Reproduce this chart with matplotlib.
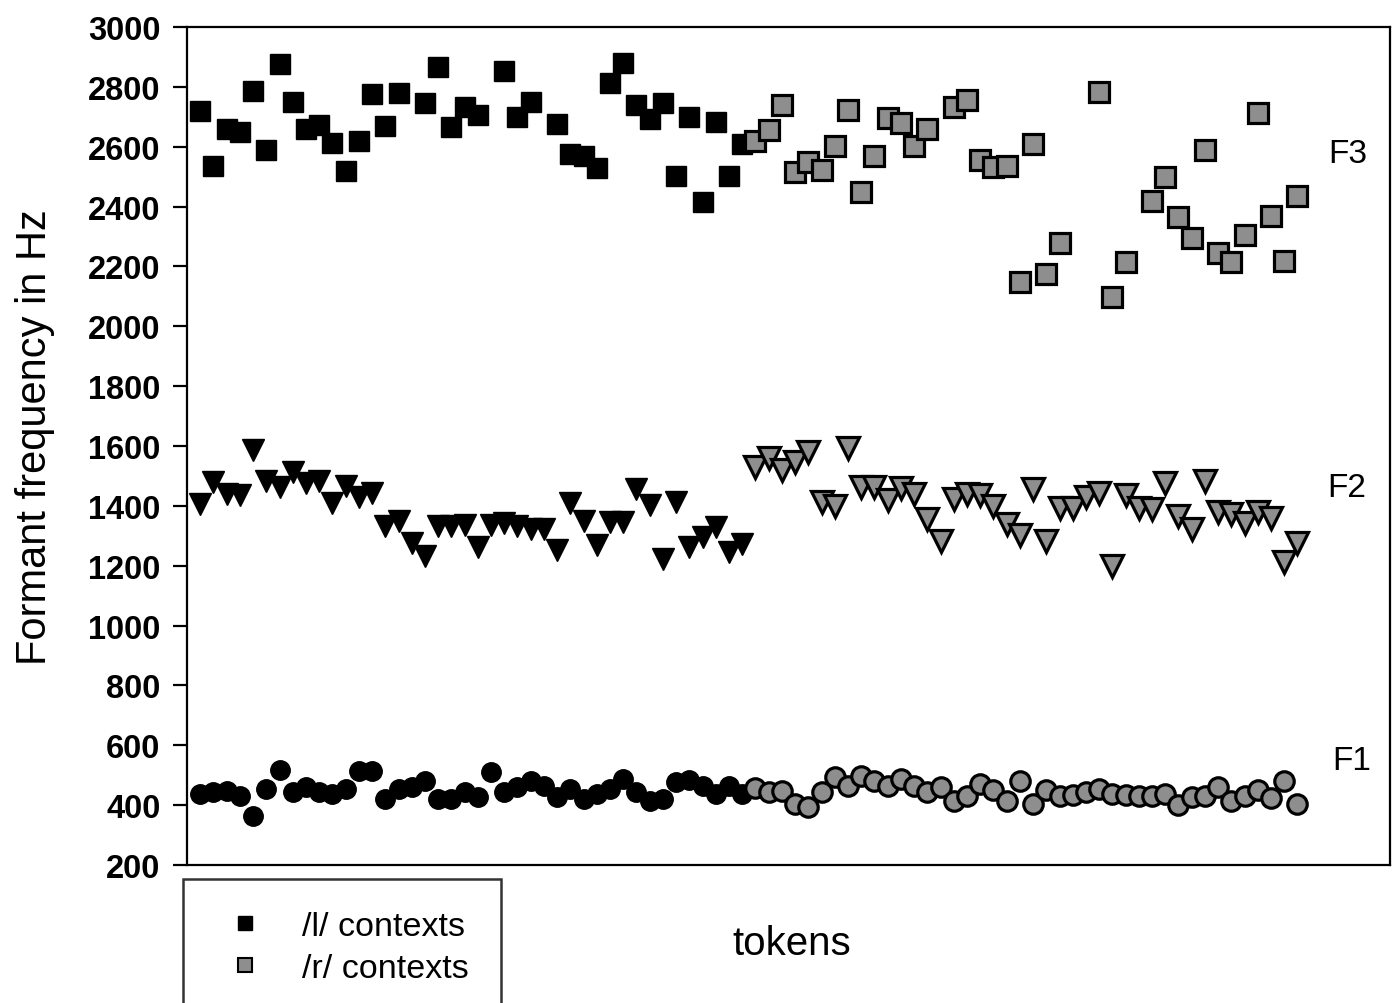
import numpy as np
import matplotlib
matplotlib.use("Agg")
import matplotlib.pyplot as plt
from matplotlib.lines import Line2D

nan = np.nan

# token index: 0-41 are /l/ contexts, 42-83 are /r/ contexts
tokens_l = np.arange(0, 42)
tokens_r = np.arange(42, 84)

f3_l = [2720, 2536, 2659, 2650, 2785, 2589, 2876, 2750, 2659, 2673,
        2611, 2520, 2618, 2776, 2670, 2778, nan, 2746, 2865, 2665,
        2732, 2706, nan, 2854, 2700, 2748, nan, 2676, 2576, 2568,
        2529, 2812, 2879, 2739, 2692, 2745, 2503, 2700, 2414, 2682,
        2501, 2609]
f3_r = [2618, 2657, 2740, 2517, 2548, 2522, 2601, 2724, 2448, 2570,
        2696, 2678, 2601, 2659, nan, 2734, 2757, 2557, 2531, 2535,
        2149, 2609, 2175, 2277, nan, nan, 2784, 2097, 2216, nan,
        2418, 2498, 2364, 2295, 2590, 2244, 2216, 2306, 2712, 2370,
        2217, 2436]

f2_l = [1405, 1479, 1440, 1436, 1588, 1482, 1462, 1512, 1475, 1484,
        1409, 1468, 1431, 1443, 1334, 1348, 1275, 1233, 1334, 1334,
        1336, 1264, 1337, 1342, 1334, 1323, 1323, 1253, 1410, 1351,
        1269, 1347, 1347, 1456, 1403, 1222, 1414, 1261, 1295, 1328,
        1247, 1273]
f2_r = [1531, 1559, 1520, 1545, 1579, 1412, 1401, 1592, 1462, 1462,
        1420, 1458, 1440, 1356, 1282, 1423, 1440, 1436, 1401, 1339,
        1302, 1456, 1283, 1392, 1392, 1431, 1444, 1200, 1436, 1394,
        1389, 1476, 1365, 1324, 1484, 1379, 1374, 1342, 1379, 1358,
        1213, 1276]

f1_l = [437, 443, 446, 432, 363, 454, 517, 443, 460, 443,
        437, 454, 515, 515, 420, 454, 460, 482, 420, 420,
        443, 426, 510, 443, 460, 482, 465, 426, 454, 420,
        437, 454, 487, 443, 415, 420, 476, 485, 465, 437,
        465, 437]
f1_r = [457, 443, 448, 403, 395, 445, 493, 465, 496, 482,
        465, 487, 465, 443, 460, 415, 432, 471, 449, 415,
        482, 404, 449, 432, 434, 443, 454, 437, 434, 432,
        432, 437, 401, 426, 432, 460, 415, 432, 449, 423,
        482, 404]

yticks = list(range(200, 3001, 200))
formant_labels = ["F3", "F2", "F1"]
label_pos = [(86.8, 2576), (86.7, 1463), (87.1, 548)]

BLACK = "black"
GRAY = "#8e8e8e"

plt.rcParams["font.family"] = ["Liberation Sans", "DejaVu Sans"]

fig = plt.figure(figsize=(13.92, 10.04), dpi=100)
ax = fig.add_axes([187 / 1392, 138 / 1004, 1203 / 1392, 838 / 1004])

ms_sq, ms_tri, ms_circ = 14.5, 15.5, 14
ew = 2.3

# /l/ contexts
ax.plot(tokens_l, f3_l, "s", ms=ms_sq, color=BLACK, mec=BLACK)
ax.plot(tokens_l, f2_l, "v", ms=ms_tri, color=BLACK, mec=BLACK)
ax.plot(tokens_l, f1_l, "o", ms=ms_circ, color=BLACK, mec=BLACK)
# /r/ contexts
ax.plot(tokens_r, f3_r, "s", ms=ms_sq, mfc=GRAY, mec=BLACK, mew=ew)
ax.plot(tokens_r, f2_r, "v", ms=ms_tri, mfc=GRAY, mec=BLACK, mew=ew)
ax.plot(tokens_r, f1_r, "o", ms=ms_circ, mfc=GRAY, mec=BLACK, mew=ew)

for lab, (x, y) in zip(formant_labels, label_pos):
    ax.text(x, y, lab, fontsize=24, ha="center", va="center")

ax.set_xlim(-1, 90)
ax.set_ylim(200, 3000)
ax.set_yticks(yticks)
ax.set_xticks([])
ax.tick_params(axis="y", direction="out", length=10, width=1.6, pad=9,
               labelsize=23.5)
for t in ax.get_yticklabels():
    t.set_fontweight("bold")
for s in ax.spines.values():
    s.set_linewidth(1.6)

ax.set_ylabel("Formant frequency in Hz", fontsize=30, va="center")
ax.yaxis.set_label_coords(-0.126, 0.512)
ax.set_xlabel("tokens", fontsize=29, va="center")
ax.xaxis.set_label_coords(0.503, -0.093)

handles = [
    Line2D([], [], ls="none", marker="s", ms=10, color=BLACK),
    Line2D([], [], ls="none", marker="s", ms=10, mfc=GRAY, mec=BLACK, mew=1.5),
]
leg = fig.legend(handles, ["/l/ contexts", "/r/ contexts"],
                 loc="upper left", bbox_to_anchor=(183 / 1392, 1 - 880 / 1004),
                 fontsize=24.5, frameon=True, fancybox=False, borderpad=0.95,
                 labelspacing=0.3, handletextpad=0.81, borderaxespad=0,
                 handlelength=1.74)
leg.get_frame().set_edgecolor("black")
leg.get_frame().set_linewidth(1.8)

fig.savefig("out.png", dpi=100)
